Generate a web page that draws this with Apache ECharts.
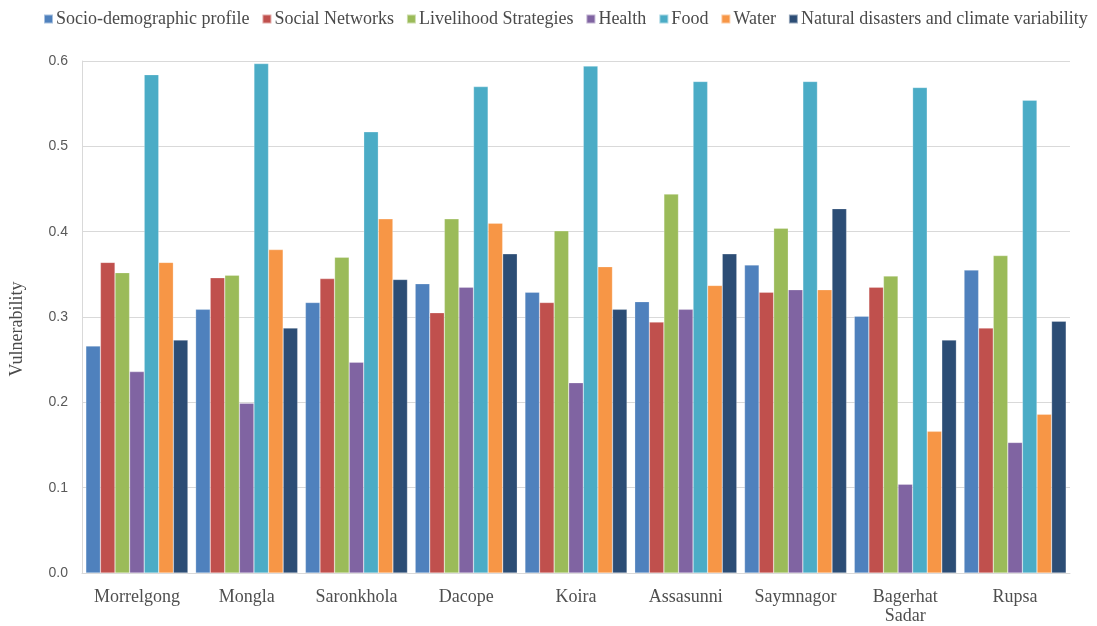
<!DOCTYPE html>
<html>
<head>
<meta charset="utf-8">
<script src="https://cdn.jsdelivr.net/npm/echarts@6/dist/echarts.min.js"></script>
<style>
  html, body { margin: 0; padding: 0; background: #fff; }
  #chart { width: 1097px; height: 626px; }
</style>
</head>
<body>
<div id="chart"></div>
<script>
// Upazilas along the x axis
const categories = ['Morrelgong', 'Mongla', 'Saronkhola', 'Dacope', 'Koira', 'Assasunni', 'Saymnagor', 'Bagerhat\nSadar', 'Rupsa'];

// Vulnerability index per component
const socioDemographic = [0.266, 0.309, 0.317, 0.339, 0.329, 0.318, 0.361, 0.301, 0.355];
const socialNetworks   = [0.364, 0.346, 0.345, 0.305, 0.317, 0.294, 0.329, 0.335, 0.287];
const livelihood       = [0.352, 0.349, 0.370, 0.415, 0.401, 0.444, 0.404, 0.348, 0.372];
const health           = [0.236, 0.199, 0.247, 0.335, 0.223, 0.309, 0.332, 0.104, 0.153];
const food             = [0.584, 0.597, 0.517, 0.570, 0.594, 0.576, 0.576, 0.569, 0.554];
const water            = [0.364, 0.379, 0.415, 0.410, 0.359, 0.337, 0.332, 0.166, 0.186];
const disasters        = [0.273, 0.287, 0.344, 0.374, 0.309, 0.374, 0.427, 0.273, 0.295];

const seriesNames = ['Socio-demographic profile', 'Social Networks', 'Livelihood Strategies', 'Health', 'Food', 'Water', 'Natural disasters and climate variability'];
const seriesData = [socioDemographic, socialNetworks, livelihood, health, food, water, disasters];
const colors = ['#4F81BD', '#C0504D', '#9BBB59', '#8064A2', '#4BACC6', '#F79646', '#2C4D75'];

const chart = echarts.init(document.getElementById('chart'), null, { renderer: 'canvas' });

chart.setOption({
  animation: false,
  color: colors,
  legend: {
    top: 5,
    left: 38,
    itemWidth: 9,
    itemHeight: 9,
    itemGap: 12,
    icon: 'rect',
    textStyle: { fontFamily: 'Liberation Serif', fontSize: 18, color: '#4a4a4a', padding: [0, 0, 0, -2] },
    data: seriesNames
  },
  grid: { left: 82, right: 27, top: 61, bottom: 52 },
  // rotated y-axis title, set slightly below the plot's centre line
  graphic: [{
    type: 'text',
    rotation: Math.PI / 2,
    x: 17,
    y: 329,
    style: {
      text: 'Vulnerability',
      font: '18px "Liberation Serif"',
      fill: '#4a4a4a',
      align: 'center',
      verticalAlign: 'middle'
    }
  }],
  xAxis: {
    type: 'category',
    data: categories,
    axisLine: { lineStyle: { color: '#d9d9d9', width: 1 } },
    axisTick: { show: false },
    axisLabel: { interval: 0, fontFamily: 'Liberation Serif', fontSize: 18, color: '#4f4f4f', margin: 15, lineHeight: 19 }
  },
  yAxis: {
    type: 'value',
    min: 0,
    max: 0.6,
    interval: 0.1,
    axisLine: { show: true, lineStyle: { color: '#d9d9d9' } },
    axisTick: { show: false },
    splitLine: { lineStyle: { color: '#d9d9d9' } },
    axisLabel: {
      fontFamily: 'Liberation Sans',
      fontSize: 14,
      color: '#595959',
      margin: 14,
      formatter: v => v.toFixed(1)
    }
  },
  series: seriesNames.map((name, i) => ({
    name,
    type: 'bar',
    data: seriesData[i],
    barGap: '0%',
    barCategoryGap: '7%',
    itemStyle: { borderColor: 'rgba(255,255,255,0.5)', borderWidth: 0.5 }
  }))
});
</script>
</body>
</html>
